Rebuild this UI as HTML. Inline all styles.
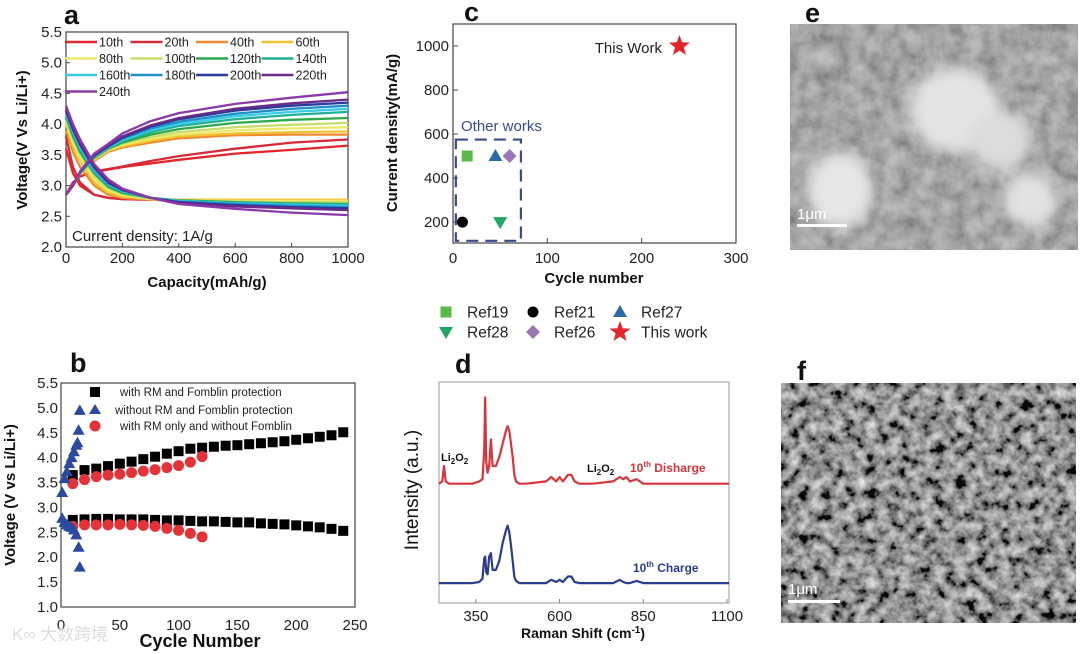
<!DOCTYPE html>
<html><head><meta charset="utf-8"><style>
html,body{margin:0;padding:0;background:#fff;}
svg{display:block;font-family:"Liberation Sans","Noto Sans CJK SC",sans-serif;}
.t{font-size:15px;fill:#222}
.b{font-weight:bold;fill:#111}
</style></head><body>
<svg id="fig" width="1080" height="654" viewBox="0 0 1080 654" xmlns="http://www.w3.org/2000/svg">
<defs>
<filter id="semE" x="0" y="0" width="100%" height="100%"><feTurbulence type="fractalNoise" baseFrequency="0.06" numOctaves="3" seed="3"/><feColorMatrix type="matrix" values="0.9 0 0 0 0.08  0.9 0 0 0 0.08  0.9 0 0 0 0.08  0 0 0 0 1"/></filter>
<filter id="semF" x="0" y="0" width="100%" height="100%"><feTurbulence type="fractalNoise" baseFrequency="0.09" numOctaves="3" seed="7"/><feColorMatrix type="matrix" values="1.4 0 0 0 -0.38  1.4 0 0 0 -0.38  1.4 0 0 0 -0.38  0 0 0 0 1"/></filter>
<filter id="blur"><feGaussianBlur stdDeviation="7"/></filter>
</defs>

<g>
<text x="64" y="24" font-size="27" class="b">a</text>
<rect x="66" y="32" width="282" height="215" fill="none" stroke="#444" stroke-width="1.2"/>
<g id="aTicks"></g>
<g id="aCurves"></g>
<g id="aLegend"></g>
<text x="72" y="241" font-size="15" fill="#222">Current density: 1A/g</text>
<text x="207" y="287" font-size="15" class="b" text-anchor="middle">Capacity(mAh/g)</text>
<text transform="translate(27,140) rotate(-90)" font-size="15" class="b" text-anchor="middle">Voltage(V Vs Li/Li+)</text>
</g>

<g>
<text x="70" y="372" font-size="27" class="b">b</text>
<rect x="61" y="383" width="294" height="224" fill="none" stroke="#444" stroke-width="1.2"/>
<g id="bTicks"></g>
<g id="bMarks"></g>
<g>
<rect x="90" y="387" width="10" height="10" fill="#000"/>
<text x="120" y="396" font-size="11.5" fill="#222">with RM and Fomblin protection</text>
<path d="M95,404 L101,414 L89,414Z" fill="#2a4aa0"/>
<text x="115" y="414" font-size="11.5" fill="#222">without RM and Fomblin protection</text>
<circle cx="95" cy="426" r="5.5" fill="#e53238"/>
<text x="120" y="430" font-size="11.5" fill="#222">with RM only and without Fomblin</text>
</g>
<text x="200" y="647" font-size="18" class="b" text-anchor="middle">Cycle Number</text>
<text transform="translate(15,495) rotate(-90)" font-size="15" class="b" text-anchor="middle">Voltage (V vs Li/Li+)</text>
<text x="12" y="640" font-size="17" fill="#ddd">K∞ 大数跨境</text>
</g>

<g>
<text x="464" y="21" font-size="27" class="b">c</text>
<rect x="453" y="24" width="283" height="219" fill="none" stroke="#444" stroke-width="1.2"/>
<g id="cTicks"></g>
<g id="cMarks"></g>
<text x="461" y="131" font-size="15" fill="#3a4a90">Other works</text>
<text x="662" y="53" font-size="15" fill="#222" text-anchor="end">This Work</text>
<text x="594" y="283" font-size="15" class="b" text-anchor="middle">Cycle number</text>
<text transform="translate(397,133) rotate(-90)" font-size="15" class="b" text-anchor="middle">Current density(mA/g)</text>
<g id="cLegend"></g>
</g>

<g>
<text x="455" y="373" font-size="27" class="b">d</text>
<rect x="439" y="382" width="290" height="221" fill="none" stroke="#999" stroke-width="1"/>
<g id="dTicks"></g>
<g id="dLines"></g>
<text x="441" y="461" font-size="11" class="b">Li<tspan font-size="8" dy="3">2</tspan><tspan dy="-3">O</tspan><tspan font-size="8" dy="3">2</tspan></text>
<text x="587" y="472" font-size="11" class="b">Li<tspan font-size="8" dy="3">2</tspan><tspan dy="-3">O</tspan><tspan font-size="8" dy="3">2</tspan></text>
<text x="630" y="472" font-size="12" font-weight="bold" fill="#d8343c">10<tspan font-size="8" dy="-5">th</tspan><tspan dy="5"> Disharge</tspan></text>
<text x="633" y="572" font-size="12" font-weight="bold" fill="#2a3c90">10<tspan font-size="8" dy="-5">th</tspan><tspan dy="5"> Charge</tspan></text>
<text x="583" y="638" font-size="14" class="b" text-anchor="middle">Raman Shift (cm<tspan font-size="10" dy="-5">-1</tspan><tspan dy="5">)</tspan></text>
<text transform="translate(418,490) rotate(-90)" font-size="19" fill="#111" text-anchor="middle">Intensity (a.u.)</text>
</g>

<g>
<text x="805" y="22" font-size="27" class="b">e</text>
<rect x="790" y="24" width="288" height="226" fill="#8a8a8a"/>
<rect x="790" y="24" width="288" height="226" filter="url(#semE)" opacity="0.9"/>
<rect x="790" y="24" width="288" height="226" fill="#7a7a7a" opacity="0.35"/>
<g filter="url(#blur)">
<ellipse cx="840" cy="190" rx="33" ry="38" fill="#e6e6e6"/>
<ellipse cx="955" cy="110" rx="45" ry="42" fill="#e4e4e4"/>
<ellipse cx="1000" cy="140" rx="32" ry="30" fill="#dcdcdc"/>
<ellipse cx="1030" cy="200" rx="27" ry="27" fill="#e2e2e2"/>
</g>
<rect x="797" y="224" width="50" height="3" fill="#fff"/>
<text x="797" y="219" font-size="15" fill="#fff">1μm</text>
</g>

<g>
<text x="797" y="380" font-size="27" class="b">f</text>
<rect x="781" y="383" width="295" height="240" fill="#555"/>
<rect x="781" y="383" width="295" height="240" filter="url(#semF)" opacity="0.9"/>
<rect x="788" y="600" width="52" height="3" fill="#fff"/>
<text x="788" y="594" font-size="15" fill="#fff">1μm</text>
</g>
</svg>

<script>
const capacityPts = [0,25,50,100,150,200,300,400,600,800,1000];
const cycleLabels = ["10th","20th","40th","60th","80th","100th","120th","140th","160th","180th","200th","220th","240th"];
const cycleColors = ["#e2262c","#d42a3a","#f08a30","#f2c330","#eee868","#c8dc68","#2aa84a","#20b096","#38cbe8","#2090c8","#2a3a98","#6a2a8a","#8a3aa8"];
const dischargeV = [
 [3.6,3.2,3.0,2.85,2.8,2.78,2.77,2.76,2.76,2.76,2.76],
 [3.8,3.3,3.05,2.85,2.8,2.78,2.77,2.76,2.76,2.76,2.76],
 [3.9,3.55,3.3,3.0,2.85,2.8,2.77,2.76,2.76,2.76,2.76],
 [4.0,3.65,3.4,3.05,2.88,2.82,2.78,2.77,2.77,2.77,2.77],
 [4.05,3.7,3.45,3.1,2.92,2.84,2.78,2.76,2.75,2.75,2.75],
 [4.1,3.75,3.5,3.15,2.95,2.86,2.79,2.76,2.74,2.73,2.73],
 [4.12,3.8,3.55,3.2,2.98,2.88,2.8,2.76,2.73,2.71,2.7],
 [4.15,3.85,3.6,3.22,3.0,2.9,2.8,2.75,2.72,2.7,2.69],
 [4.18,3.88,3.62,3.25,3.02,2.91,2.8,2.75,2.71,2.69,2.67],
 [4.2,3.9,3.65,3.27,3.03,2.92,2.8,2.74,2.7,2.67,2.65],
 [4.22,3.92,3.67,3.3,3.05,2.93,2.8,2.73,2.68,2.65,2.63],
 [4.25,3.95,3.7,3.32,3.07,2.94,2.8,2.72,2.66,2.63,2.6],
 [4.3,4.0,3.75,3.35,3.1,2.95,2.8,2.7,2.62,2.56,2.52]];
const chargeV = [
 [2.85,3.05,3.15,3.22,3.26,3.3,3.36,3.42,3.52,3.58,3.65],
 [2.85,3.05,3.15,3.23,3.27,3.31,3.4,3.48,3.6,3.7,3.75],
 [2.85,3.0,3.2,3.4,3.55,3.62,3.7,3.77,3.82,3.83,3.83],
 [2.85,3.0,3.2,3.42,3.57,3.64,3.73,3.8,3.85,3.87,3.88],
 [2.85,3.0,3.2,3.43,3.58,3.66,3.76,3.83,3.9,3.93,3.95],
 [2.85,3.0,3.2,3.44,3.59,3.68,3.79,3.87,3.95,3.99,4.02],
 [2.85,3.0,3.2,3.45,3.6,3.7,3.83,3.92,4.02,4.07,4.1],
 [2.85,3.0,3.21,3.46,3.61,3.72,3.87,3.97,4.08,4.15,4.2],
 [2.85,3.0,3.21,3.47,3.62,3.74,3.9,4.0,4.13,4.2,4.25],
 [2.85,3.0,3.22,3.48,3.63,3.76,3.93,4.04,4.17,4.25,4.3],
 [2.85,3.0,3.22,3.49,3.64,3.78,3.96,4.08,4.22,4.3,4.35],
 [2.85,3.0,3.22,3.5,3.65,3.8,3.98,4.1,4.25,4.34,4.4],
 [2.85,3.0,3.23,3.52,3.68,3.85,4.05,4.18,4.33,4.43,4.52]];
const aXTicks = [0,200,400,600,800,1000];
const aYTicks = ["2.0","2.5","3.0","3.5","4.0","4.5","5.0","5.5"];

const cyclesRM = [10,20,30,40,50,60,70,80,90,100,110,120,130,140,150,160,170,180,190,200,210,220,230,240];
const chargeRM = [3.65,3.75,3.78,3.83,3.88,3.92,3.97,4.02,4.08,4.13,4.18,4.2,4.22,4.24,4.25,4.27,4.29,4.31,4.33,4.36,4.39,4.42,4.45,4.51];
const dischargeRM = [2.75,2.76,2.77,2.77,2.76,2.76,2.76,2.75,2.74,2.74,2.73,2.72,2.72,2.71,2.7,2.7,2.68,2.67,2.66,2.64,2.62,2.6,2.57,2.53];
const cyclesRMOnly = [10,20,30,40,50,60,70,80,90,100,110,120];
const chargeRMOnly = [3.48,3.56,3.62,3.65,3.67,3.7,3.73,3.76,3.8,3.84,3.91,4.02];
const dischargeRMOnly = [2.62,2.65,2.65,2.65,2.66,2.65,2.64,2.62,2.58,2.54,2.48,2.41];
const cyclesNoRM = [1,3,5,7,9,11,13,14,15,16];
const chargeNoRM = [3.3,3.58,3.72,3.88,4.0,4.12,4.25,4.3,4.55,4.95];
const cyclesNoRMd = [1,3,5,7,9,11,13,15,16];
const dischargeNoRM = [2.78,2.7,2.65,2.62,2.6,2.55,2.45,2.2,1.8];
const bXTicks = [0,50,100,150,200,250];
const bYTicks = ["1.0","1.5","2.0","2.5","3.0","3.5","4.0","4.5","5.0","5.5"];

const refNames = ["Ref19","Ref21","Ref27","Ref28","Ref26","This work"];
const refCycles = [15,10,45,50,60,240];
const refDensity = [500,200,500,200,500,1000];
const cXTicks = [0,100,200,300];
const cYTicks = [200,400,600,800,1000];

const ramanShift = [240,250,255,260,270,300,340,360,370,375,378,381,385,390,395,400,410,420,430,440,445,450,455,460,465,470,480,500,560,575,590,600,610,625,635,645,660,700,760,780,790,800,810,830,850,900,1000,1106];
const dischargeInt = [0,1,8,1,0,0,0,1,2,15,39,10,5,8,20,8,8,12,18,24,26,24,18,12,4,1,0,0,1,3,1,3,1,4,4,1,0,0,1,3,2,3,1,2,0,0,0,0];
const chargeInt = [0,0,0,0,0,0,0,0.5,2,11,12,5,4,12,13.6,6,6,10,18,24,26,23,17,10,3,1,0,0,0,1.5,0.5,1.5,0.5,3,3,0.5,0,0,0,1.5,0.5,0,0,1,0,0,0,0];
const dischargeOffset = 54;
const chargeOffset = 9;
const dXTicks = [350,600,850,1100];

const NS = "http://www.w3.org/2000/svg";
function mk(tag, attrs, parent){const e=document.createElementNS(NS,tag);for(const k in attrs)e.setAttribute(k,attrs[k]);parent.appendChild(e);return e;}
const G = id => document.getElementById(id);

const xA=c=>66+c/1000*282, yA=v=>247-(v-2)/3.5*215;
const xB=n=>61+n/250*294, yB=v=>607-(v-1)/4.5*224;
const xC=n=>453+n/300*283, yC=d=>243-(d-105)/995*219;
const xD=s=>439+(s-240)/866*290, yD=i=>603-i*2.21;

aXTicks.forEach(v=>{
  const t=mk("text",{x:xA(v),y:263,"text-anchor":"middle",class:"t","font-size":16},G("aTicks")); t.textContent=v;
  
  
  const l=mk("line",{x1:xA(v),x2:xA(v),y1:247,y2:243,stroke:"#444"},G("aTicks"));
  
  
});
aYTicks.forEach(v=>{
  const t=mk("text",{x:62,y:yA(+v)+5,"text-anchor":"end",class:"t","font-size":16},G("aTicks")); t.textContent=v;
  
  
  const l=mk("line",{x1:66,x2:70,y1:yA(+v),y2:yA(+v),stroke:"#444"},G("aTicks"));
  
  
});
function pts(xs,ys,fx,fy){return xs.map((x,i)=>fx(x).toFixed(1)+","+fy(ys[i]).toFixed(1)).join(" ");}
cycleLabels.forEach((lab,i)=>{
  const d=mk("polyline",{points:pts(capacityPts,dischargeV[i],xA,yA),fill:"none",stroke:cycleColors[i],"stroke-width":2.3,"stroke-linejoin":"round"},G("aCurves"));
  
  
  const c=mk("polyline",{points:pts(capacityPts,chargeV[i],xA,yA),fill:"none",stroke:cycleColors[i],"stroke-width":2.3,"stroke-linejoin":"round"},G("aCurves"));
  
  
  const col=i%4,row=Math.floor(i/4);
  const lx=65+col*65.5, ly=42+row*16.5;
  const ll=mk("line",{x1:lx,x2:lx+32,y1:ly,y2:ly,stroke:cycleColors[i],"stroke-width":2.5},G("aLegend"));
  
  
  const lt=mk("text",{x:lx+34,y:ly+4.5,"font-size":12.5,fill:"#222"},G("aLegend")); lt.textContent=lab;
  
  
});

bXTicks.forEach(v=>{
  const t=mk("text",{x:xB(v),y:630,"text-anchor":"middle",class:"t","font-size":17},G("bTicks")); t.textContent=v;
  
  
});
bYTicks.forEach(v=>{
  const t=mk("text",{x:58,y:yB(+v)+5,"text-anchor":"end",class:"t","font-size":16},G("bTicks")); t.textContent=v;
  
  
});
function sq(x,y,name){const r=mk("rect",{x:x-5,y:y-5,width:10,height:10,fill:"#000"},G("bMarks"));
  
  }
function ci(x,y,name){const r=mk("circle",{cx:x,cy:y,r:5.5,fill:"#e53238"},G("bMarks"));
  
  }
function tri(x,y,name){const r=mk("path",{d:`M${x},${y-6} L${x+6},${y+4.5} L${x-6},${y+4.5}Z`,fill:"#2a4aa0"},G("bMarks"));
  
  }
cyclesRM.forEach((n,i)=>{sq(xB(n),yB(chargeRM[i]),'charge-rm-point');sq(xB(n),yB(dischargeRM[i]),'discharge-rm-point');});
cyclesRMOnly.forEach((n,i)=>{ci(xB(n),yB(chargeRMOnly[i]),'charge-rm-only-point');ci(xB(n),yB(dischargeRMOnly[i]),'discharge-rm-only-point');});
cyclesNoRM.forEach((n,i)=>tri(xB(n),yB(chargeNoRM[i]),'charge-no-rm-point'));
cyclesNoRMd.forEach((n,i)=>tri(xB(n),yB(dischargeNoRM[i]),'discharge-no-rm-point'));

cXTicks.forEach(v=>{
  const t=mk("text",{x:xC(v),y:263,"text-anchor":"middle",class:"t","font-size":16},G("cTicks")); t.textContent=v;
  
  
  const l=mk("line",{x1:xC(v),x2:xC(v),y1:243,y2:238,stroke:"#444"},G("cTicks"));
  
  
});
cYTicks.forEach(v=>{
  const t=mk("text",{x:449,y:yC(v)+5,"text-anchor":"end",class:"t","font-size":16},G("cTicks")); t.textContent=v;
  
  
  const l=mk("line",{x1:453,x2:458,y1:yC(v),y2:yC(v),stroke:"#444"},G("cTicks"));
  
  
});
const box=mk("rect",{x:xC(3),y:yC(575),width:xC(72)-xC(3),height:yC(115)-yC(575),fill:"none",stroke:"#3a4a8a","stroke-width":2.2,"stroke-dasharray":"12,7"},G("cMarks"));


function star(cx,cy,R){let p=[];for(let k=0;k<10;k++){const r=k%2?R*0.42:R;const a=-Math.PI/2+k*Math.PI/5;p.push((cx+r*Math.cos(a)).toFixed(1)+","+(cy+r*Math.sin(a)).toFixed(1));}return p.join(" ");}
function marker(kind,x,y,parent){
  let e;
  if(kind===0)e=mk("rect",{x:x-5.5,y:y-5.5,width:11,height:11,fill:"#5cb84c"},parent);
  else if(kind===1)e=mk("circle",{cx:x,cy:y,r:5.5,fill:"#000"},parent);
  else if(kind===2)e=mk("path",{d:`M${x},${y-7} L${x+7},${y+5} L${x-7},${y+5}Z`,fill:"#2a6aa8"},parent);
  else if(kind===3)e=mk("path",{d:`M${x-7},${y-5} L${x+7},${y-5} L${x},${y+7}Z`,fill:"#1ea864"},parent);
  else if(kind===4)e=mk("path",{d:`M${x},${y-7} L${x+7},${y} L${x},${y+7} L${x-7},${y}Z`,fill:"#9a78b4"},parent);
  else e=mk("polygon",{points:star(x,y,11),fill:"#e2262c"},parent);
  return e;
}
refNames.forEach((nm,i)=>{
  const m=marker(i,xC(refCycles[i]),yC(refDensity[i]),G("cMarks"));
  
  
  const col=i%3,row=Math.floor(i/3);
  const lx=[446,533,620][col], ly=312+row*20;
  const lm=marker(i,lx,ly,G("cLegend"));
  
  
  const lt=mk("text",{x:lx+21,y:ly+5.5,"font-size":15.5,fill:"#222"},G("cLegend")); lt.textContent=nm;
  
  
});

dXTicks.forEach(v=>{
  const t=mk("text",{x:xD(v),y:621,"text-anchor":"middle",class:"t","font-size":16},G("dTicks")); t.textContent=v;
  
  
  const l=mk("line",{x1:xD(v),x2:xD(v),y1:603,y2:599,stroke:"#888"},G("dTicks"));
  
  
});
const dl=mk("polyline",{points:pts(ramanShift,dischargeInt.map(v=>v+dischargeOffset),xD,yD),fill:"none",stroke:"#d8343c","stroke-width":2.2,"stroke-linejoin":"round"},G("dLines"));


const cl=mk("polyline",{points:pts(ramanShift,chargeInt.map(v=>v+chargeOffset),xD,yD),fill:"none",stroke:"#2a3c90","stroke-width":2.2,"stroke-linejoin":"round"},G("dLines"));


</script>
</body></html>
